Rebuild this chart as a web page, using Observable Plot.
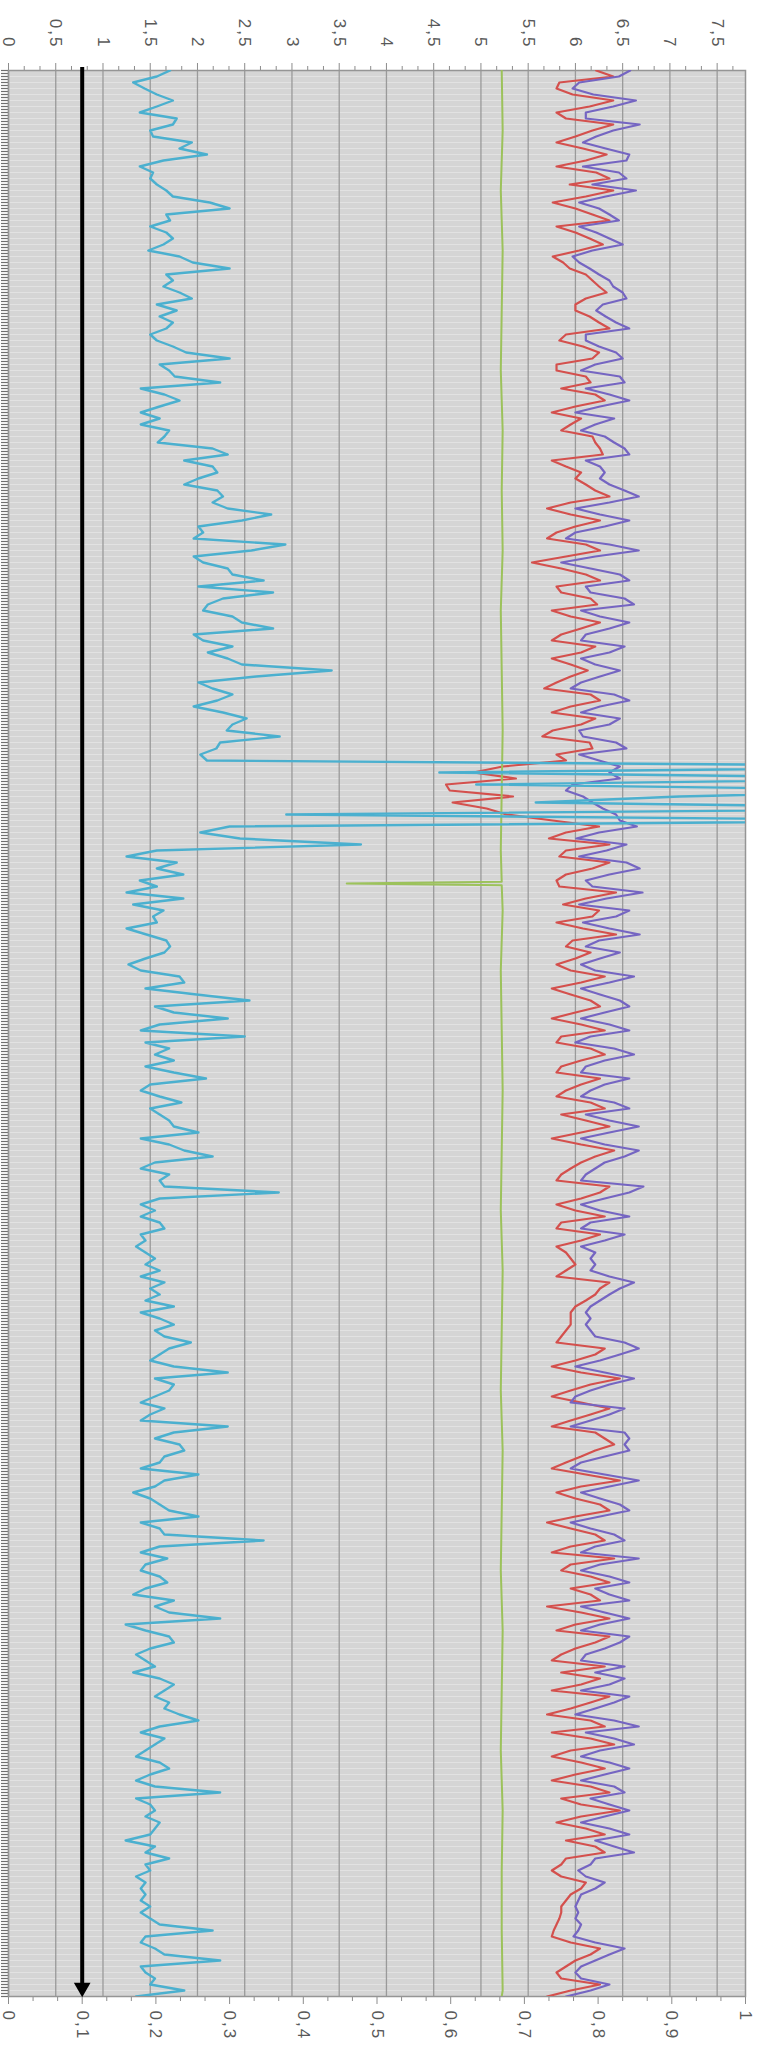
<!DOCTYPE html>
<html>
<head>
<meta charset="utf-8">
<script src="https://cdn.jsdelivr.net/npm/d3@7"></script>
<script src="https://cdn.jsdelivr.net/npm/@observablehq/plot@0.6"></script>
<style>
  html, body { margin: 0; padding: 0; background: #ffffff; }
  #chart { width: 761px; height: 2067px; overflow: hidden; }
</style>
</head>
<body>
<div id="chart"></div>
<script>
// ---- tick labels (top axis = primary, bottom axis = secondary) ----
const topTicks = [0, 0.5, 1, 1.5, 2, 2.5, 3, 3.5, 4, 4.5, 5, 5.5, 6, 6.5, 7, 7.5];
const topLabels = ["0", "0,5", "1", "1,5", "2", "2,5", "3", "3,5", "4", "4,5", "5", "5,5", "6", "6,5", "7", "7,5"];
const bottomTicks = [0, 0.1, 0.2, 0.3, 0.4, 0.5, 0.6, 0.7, 0.8, 0.9, 1];
const bottomLabels = ["0", "0,1", "0,2", "0,3", "0,4", "0,5", "0,6", "0,7", "0,8", "0,9", "1"];
const topMax = 7.8;      // primary axis maximum
const arrowValue = 0.1;  // arrow position, on the secondary (bottom) axis

// ---- series (in top-axis units) ----
const cyan = [
  1.71,1.57,1.32,1.44,1.57,1.74,1.57,1.39,1.78,1.74,1.50,1.53,1.94,1.81,2.10,1.64,1.39,1.53,1.50,1.57,
  1.67,1.74,2.13,2.34,1.67,1.71,1.50,1.67,1.74,1.64,1.48,1.81,1.95,2.34,1.67,1.74,1.64,1.81,1.94,1.57,
  1.78,1.60,1.74,1.67,1.50,1.57,1.74,1.88,2.34,
  1.60,1.70,1.76,2.24,1.40,1.65,1.81,1.60,1.40,1.60,1.40,1.70,1.65,1.58,2.16,2.32,1.86,2.16,2.21,2.01,
  1.86,2.21,2.27,2.16,2.32,2.78,2.47,2.01,2.06,1.96,2.93,2.57,1.96,2.06,2.32,2.37,2.70,2.01,2.80,2.27,
  2.11,2.06,2.37,2.47,2.80,1.96,2.06,2.37,2.11,2.32,2.47,3.42,2.62,2.01,2.16,2.37,2.21,1.96,2.27,2.52,
  2.37,
  2.31,2.87,2.24,2.20,2.03,2.10,10.5,4.56,10,4.95,10,7.1,5.58,10.5,2.94,10,2.34,2.03,2.45,3.73,
  1.57,1.25,1.78,1.57,1.85,1.39,1.57,1.25,1.85,1.32,1.64,1.53,1.57,1.25,1.46,1.67,1.71,
  1.65,1.45,1.27,1.40,1.81,1.86,1.45,1.99,2.55,1.55,1.75,2.32,1.60,1.40,2.50,1.45,1.70,1.55,1.75,1.45,
  1.75,2.09,1.50,1.40,1.60,1.83,1.50,1.60,1.70,1.75,2.01,1.40,1.70,1.86,2.16,1.55,1.40,1.70,1.60,1.65,
  2.86,1.60,1.40,1.55,1.40,1.60,1.65,1.40,1.45,1.35,
  1.45,1.55,1.45,1.60,1.40,1.65,1.50,1.60,1.45,1.75,1.40,1.60,1.75,1.55,1.65,1.93,1.70,1.60,1.50,1.75,
  2.32,1.55,1.75,1.70,1.55,1.40,1.65,1.50,1.40,2.32,1.75,1.55,1.81,1.86,1.65,1.60,1.40,2.01,1.65,1.55,
  1.32,1.50,1.60,1.70,2.01,1.40,1.60,1.65,2.70,1.60,1.40,
  1.68,1.45,1.40,1.60,1.68,1.45,1.32,1.75,1.55,1.70,2.24,1.24,1.45,1.70,1.75,1.50,1.35,1.45,1.55,1.32,
  1.60,1.75,1.65,1.55,1.70,1.65,1.81,2.01,1.60,1.40,1.65,1.55,1.45,1.35,1.60,1.70,1.50,1.35,1.55,2.24,
  1.35,1.50,1.55,1.45,1.60,1.55,1.50,1.24,1.55,1.45,1.70,
  1.45,1.50,1.35,1.45,1.40,1.45,1.40,1.50,1.40,1.50,1.60,2.16,1.45,1.40,1.55,1.65,2.24,1.40,1.45,1.55,
  1.50,1.86,1.35
];
const red = [
  6.22,6.40,5.83,5.80,5.97,6.40,6.15,5.80,5.90,6.40,6.18,6.00,5.80,6.08,6.33,6.11,5.80,6.22,6.36,5.94,
  6.40,6.11,5.76,6.00,6.18,6.36,5.80,6.00,6.15,6.29,6.04,5.76,5.87,5.94,6.11,6.18,6.25,6.33,6.11,6.00,
  6.00,6.15,6.25,6.36,5.90,5.83,6.08,6.25,6.18,
  5.80,5.80,6.11,6.16,5.85,6.21,6.31,6.00,5.75,6.06,5.95,5.85,6.18,6.21,6.26,6.29,5.75,5.90,6.06,6.00,
  6.11,6.21,6.36,5.95,5.70,5.95,6.26,6.00,5.80,5.70,6.11,6.26,5.90,5.54,5.85,6.11,6.26,5.80,5.85,6.16,
  6.23,5.75,5.95,6.26,6.06,5.85,5.75,6.21,6.06,5.75,5.95,6.13,5.95,5.80,5.67,6.16,6.26,5.95,5.75,6.21,
  6.06,
  5.76,5.65,6.15,6.18,5.80,5.90,5.23,4.92,5.37,4.63,4.67,5.34,4.70,5.06,5.27,5.76,6.25,5.90,5.72,6.36,
  5.90,5.83,6.36,6.18,5.90,5.80,5.83,6.43,6.11,5.87,6.25,6.18,5.80,6.08,6.43,5.97,5.90,
  6.16,6.00,5.80,5.95,6.31,6.06,5.75,5.95,6.16,6.26,6.00,5.75,6.06,6.31,5.85,5.80,6.16,6.31,6.06,5.85,
  5.80,6.26,6.06,5.90,5.80,6.16,6.31,5.85,6.11,6.36,6.06,5.75,6.06,6.41,6.21,6.06,5.95,5.85,5.80,6.36,
  6.26,6.06,5.80,6.00,6.31,5.85,5.80,6.26,6.06,5.80,
  5.90,5.95,6.00,5.90,5.80,6.36,6.26,6.21,6.11,6.00,5.95,5.95,5.95,5.90,5.85,5.80,6.31,6.21,6.00,5.75,
  6.06,6.47,6.16,5.95,5.75,6.06,6.36,6.16,5.95,5.75,6.21,6.31,6.41,6.21,6.06,5.90,5.75,6.11,6.47,6.06,
  5.80,6.00,6.26,6.36,6.00,5.70,5.95,6.21,6.31,5.95,5.75,
  6.41,5.95,5.85,6.16,6.36,5.95,6.16,6.26,5.70,6.06,6.36,6.00,5.80,6.36,6.21,6.00,5.85,5.75,6.31,5.85,
  6.26,6.06,5.75,6.36,6.16,5.95,5.70,6.16,6.31,5.75,6.16,6.41,5.95,5.75,6.06,6.31,6.00,5.75,6.16,6.36,
  5.85,6.06,6.47,6.06,5.80,6.11,6.31,5.90,6.21,6.31,5.90,
  5.85,5.75,5.85,6.11,6.06,5.95,5.90,5.85,5.85,5.83,5.80,5.77,5.75,5.95,6.26,6.16,6.00,5.90,5.80,5.85,
  6.26,5.95,5.70
];
const purple = [
  6.58,6.46,6.04,5.97,6.19,6.64,6.40,6.11,6.11,6.68,6.40,6.22,6.08,6.32,6.57,6.54,6.08,6.46,6.54,6.18,
  6.64,6.32,6.04,6.25,6.36,6.46,6.04,6.22,6.36,6.50,6.18,5.97,6.04,6.15,6.25,6.36,6.40,6.50,6.54,6.29,
  6.22,6.32,6.43,6.57,6.11,6.11,6.25,6.43,6.50,
  6.21,6.06,6.47,6.52,6.11,6.36,6.57,6.26,6.00,6.41,6.21,6.06,6.31,6.41,6.52,6.57,6.11,6.26,6.31,6.26,
  6.36,6.52,6.67,6.36,6.00,6.26,6.57,6.31,6.00,5.90,6.36,6.67,6.21,5.85,6.16,6.47,6.57,6.11,6.16,6.52,
  6.62,6.06,6.26,6.57,6.36,6.11,6.06,6.52,6.36,6.06,6.21,6.47,6.26,6.06,5.95,6.41,6.57,6.26,6.06,6.47,
  6.36,
  6.04,6.08,6.43,6.54,6.04,6.25,6.47,6.36,6.47,5.97,5.90,6.08,6.18,6.29,6.43,6.47,6.65,6.25,6.01,6.54,
  6.33,6.04,6.54,6.68,6.36,6.11,6.18,6.71,6.33,6.04,6.57,6.43,6.08,6.36,6.68,6.25,6.11,
  6.47,6.26,6.06,6.21,6.62,6.36,6.06,6.26,6.47,6.57,6.31,6.06,6.36,6.57,6.16,6.00,6.41,6.62,6.31,6.11,
  6.06,6.57,6.31,6.16,6.06,6.41,6.57,6.11,6.36,6.67,6.36,6.06,6.31,6.67,6.52,6.31,6.21,6.11,6.06,6.72,
  6.57,6.31,6.06,6.26,6.57,6.16,6.06,6.52,6.31,6.06,
  6.21,6.16,6.21,6.16,6.36,6.62,6.47,6.36,6.26,6.16,6.11,6.16,6.11,6.16,6.21,6.52,6.67,6.47,6.26,6.00,
  6.31,6.62,6.36,6.16,6.00,5.95,6.52,6.36,6.16,5.95,6.52,6.57,6.52,6.57,6.31,6.06,5.95,6.31,6.67,6.36,
  6.06,6.26,6.47,6.57,6.26,5.95,6.16,6.41,6.52,6.21,6.06,
  6.67,6.26,6.06,6.36,6.57,6.21,6.36,6.57,6.06,6.31,6.57,6.26,6.06,6.57,6.47,6.31,6.11,6.06,6.52,6.21,
  6.52,6.36,6.06,6.57,6.41,6.21,6.00,6.41,6.67,6.11,6.41,6.62,6.26,6.06,6.36,6.57,6.31,6.06,6.41,6.52,
  6.16,6.36,6.57,6.31,6.06,6.36,6.57,6.21,6.41,6.62,6.21,
  6.16,6.03,6.11,6.31,6.21,6.06,6.03,6.00,6.03,6.00,6.06,6.03,5.98,6.21,6.52,6.36,6.21,6.06,6.00,6.06,
  6.36,6.16,5.90
];
// green series: nearly flat, one dip
const greenIndex = [0,10,20,30,40,50,60,70,80,90,100,110,120,130,135.2,135.5,135.8,140,150,160,170,180,190,200,210,220,230,240,250,260,270,280,290,300,310,320,321];
const greenValue = [5.22,5.23,5.21,5.23,5.22,5.21,5.23,5.22,5.23,5.21,5.22,5.23,5.22,5.21,5.22,3.58,5.22,5.23,5.21,5.22,5.23,5.22,5.21,5.23,5.22,5.21,5.23,5.22,5.21,5.23,5.22,5.21,5.23,5.22,5.22,5.23,5.22];

// ---- derived helpers ----
const n = cyan.length;
const idx = d3.range(n);
const stripTicks = d3.range(0, n - 0.99, 0.5); // dense category tick marks along the left edge
const toTop = b => b * topMax; // secondary axis value -> primary axis units
const topMinor = d3.range(0, topMax + 1e-9, 0.5 / 3).filter(v => Math.abs(v * 2 - Math.round(v * 2)) > 1e-6);
const bottomMinor = d3.range(0, 1 + 1e-9, 0.1 / 3).filter(v => Math.abs(v * 10 - Math.round(v * 10)) > 1e-6);

const lineOpts = (color, w) => ({x: d => d, y: (d, i) => i, stroke: color, strokeWidth: w, clip: true, strokeLinejoin: "round"});

const chart = Plot.plot({
  width: 761,
  height: 2067,
  marginTop: 70,
  marginBottom: 71,
  marginLeft: 8,
  marginRight: 16,
  x: {domain: [0, topMax], axis: null},
  y: {domain: [0, n - 1], reverse: true, axis: null},
  style: {background: "#ffffff", fontFamily: "'Liberation Sans', Arial, sans-serif", fontSize: "17px", letterSpacing: "2px", color: "#595959", overflow: "visible"},
  marks: [
    Plot.frame({fill: "#d5d5d5", stroke: null}),
    Plot.gridY({ticks: idx, stroke: "#ffffff", strokeOpacity: 0.32, strokeWidth: 1}),
    Plot.gridX({ticks: topTicks, stroke: "#9a9a9a", strokeOpacity: 1, strokeWidth: 1.3}),
    Plot.axisY({anchor: "left", ticks: stripTicks, tickSize: 7, fill: "none", stroke: "#6f6f6f", strokeWidth: 1.2}),
    Plot.axisX({anchor: "top", ticks: topTicks, tickSize: 8, fill: "none", stroke: "#8c8c8c"}),
    Plot.axisX({anchor: "top", ticks: topMinor, tickSize: 5, fill: "none", stroke: "#8c8c8c"}),
    Plot.axisX({anchor: "bottom", ticks: bottomTicks.map(toTop), tickSize: 8, fill: "none", stroke: "#8c8c8c"}),
    Plot.axisX({anchor: "bottom", ticks: bottomMinor.map(toTop), tickSize: 5, fill: "none", stroke: "#8c8c8c"}),
    Plot.frame({stroke: "#959595", strokeWidth: 1.5, fill: "none"}),
    Plot.text(topTicks, {x: d => d, text: (d, i) => topLabels[i], frameAnchor: "top", lineAnchor: "middle", dy: -22, rotate: 90, textAnchor: "end", fill: "#595959"}),
    Plot.text(bottomTicks, {x: toTop, text: (d, i) => bottomLabels[i], frameAnchor: "bottom", lineAnchor: "middle", dy: 14, rotate: 90, textAnchor: "start", fill: "#595959"}),
    Plot.lineX(red, lineOpts("#d4504d", 2.2)),
    Plot.lineX(purple, lineOpts("#7565c2", 2.2)),
    Plot.lineX(greenIndex, {x: (d, i) => greenValue[i], y: d => d, stroke: "#9cc25b", strokeWidth: 2, clip: true}),
    Plot.lineX(cyan, lineOpts("#4bb0cf", 2.4)),
    Plot.ruleX([arrowValue], {x: toTop, y1: 0, y2: n - 1, stroke: "#000000", strokeWidth: 4, insetTop: -3, insetBottom: 13}),
    Plot.dot([arrowValue], {x: toTop, y: n - 1, symbol: "triangle", rotate: 180, r: 6.2, fill: "#000000", stroke: "none", dy: -9})
  ]
});
document.getElementById("chart").appendChild(chart);
</script>
</body>
</html>
